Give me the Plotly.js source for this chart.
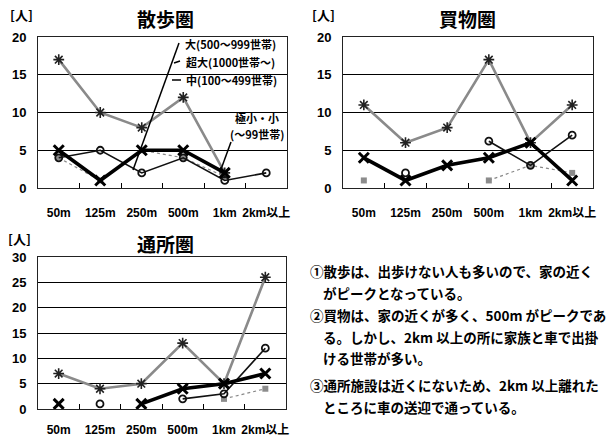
<!DOCTYPE html>
<html>
<head>
<meta charset="utf-8">
<script src="https://cdn.plot.ly/plotly-3.0.1.min.js"></script>
<style>html,body{margin:0;padding:0;background:#fff;}#chart{width:613px;height:439px;}</style>
</head>
<body>
<div id="chart"></div>
<script>
// ---- data ----
const categories = ["50m", "125m", "250m", "500m", "1km", "2km以上"];
const seriesNames = ["大(500～999世帯)", "超大(1000世帯～)", "中(100～499世帯)", "極小・小(～99世帯)"];

// 散歩圏
const walk_dai     = [4, 5, 2, 4, 1, 2];
const walk_chodai  = [17, 10, 8, 12, 2, null];
const walk_chu     = [5, 1, 5, 5, 2, null];
const walk_small   = [4, 1, 5, 4, 1.5, null];

// 買物圏
const shop_dai     = [null, 2, null, 6.2, 3, 7];
const shop_chodai  = [11, 6, 8, 17, 6, 11];
const shop_chu     = [4, 1, 3, 4, 6, 1];
const shop_small   = [1, null, null, 1, 3, 2];

// 通所圏
const day_dai      = [null, 1, null, 2, 3, 12];
const day_chodai   = [7, 4, 5, 13, 5, 26];
const day_chu      = [1, null, 1, 4, 5, 7];
const day_small    = [null, null, null, null, 2, 4];

const yTicks1 = [0, 5, 10, 15, 20];
const yTicks3 = [0, 5, 10, 15, 20, 25, 30];

const panelTitles = ["散歩圏", "買物圏", "通所圏"];
const unitLabel = "[人]";
const notes = [
  "①散歩は、出歩けない人も多いので、家の近く",
  "がピークとなっている。",
  "②買物は、家の近くが多く、500m がピークであ",
  "る。しかし、2km 以上の所に家族と車で出掛",
  "ける世帯が多い。",
  "③通所施設は近くにないため、2km 以上離れた",
  "ところに車の送迎で通っている。"
];

// ---- layout helpers ----
const W = 613, H = 439;
const px = x => x / W;
const py = y => 1 - y / H;
const JP = "Noto Sans CJK JP, Liberation Sans, sans-serif";
const NUM = "Liberation Sans, Arial, Noto Sans CJK JP, sans-serif";

function styles(i) {
  if (i === 0) return {line: {color: "#111", width: 1.6}, marker: {symbol: "circle-open", size: 7, color: "#111", line: {width: 1.8, color: "#111"}}};
  if (i === 1) return {line: {color: "#8a8a8a", width: 2.6}, marker: {symbol: "asterisk-open", size: 9, color: "#222", line: {width: 1.6, color: "#222"}}};
  if (i === 2) return {line: {color: "#000", width: 3.6}, marker: {symbol: "x-thin-open", size: 10, color: "#000", line: {width: 3, color: "#000"}}};
  return {line: {color: "#888", width: 1.2, dash: "dot"}, marker: {symbol: "square", size: 6, color: "#8c8c8c"}};
}

const traces = [];
function addPanel(ax, arrs) {
  const order = [3, 1, 0, 2];
  order.forEach(i => {
    const s = styles(i);
    traces.push({
      type: "scatter", mode: "lines+markers", x: categories, y: arrs[i],
      name: seriesNames[i], xaxis: "x" + ax, yaxis: "y" + ax,
      line: s.line, marker: s.marker, connectgaps: false, showlegend: false,
      cliponaxis: false
    });
  });
}
addPanel("", [walk_dai, walk_chodai, walk_chu, walk_small]);
addPanel("2", [shop_dai, shop_chodai, shop_chu, shop_small]);
addPanel("3", [day_dai, day_chodai, day_chu, day_small]);

function xAxis(dom, anchor, standoff) {
  return {
    domain: dom, anchor: anchor, type: "category", range: [-0.5, 5.5],
    tickson: "boundaries", ticks: "inside", ticklen: 5, tickcolor: "#000", tickwidth: 1,
    showline: true, linecolor: "#222", linewidth: 1, mirror: true,
    showgrid: false, zeroline: false, fixedrange: true, tickangle: 0,
    ticklabelstandoff: standoff,
    tickfont: {family: NUM, size: 12, color: "#000", weight: "bold"}
  };
}
function yAxis(dom, anchor, ticks) {
  return {
    domain: dom, anchor: anchor, range: [0, ticks[ticks.length - 1]],
    tickvals: ticks, ticktext: ticks.map(String), ticks: "",
    showline: true, linecolor: "#222", linewidth: 1, mirror: true,
    showgrid: true, gridcolor: "#000", gridwidth: 1, zeroline: false, fixedrange: true,
    ticklabelstandoff: 8,
    tickfont: {family: NUM, size: 13, color: "#000", weight: "bold"}
  };
}

const yTop = [py(188), py(37)];
const yBot = [py(409), py(257)];

const annotations = [];
function ann(text, x, y, size, xanchor, extra) {
  annotations.push(Object.assign({
    text: text, xref: "paper", yref: "paper", x: px(x), y: py(y),
    xanchor: xanchor || "center", yanchor: "middle", showarrow: false,
    font: {family: JP, size: size, color: "#000", weight: "bold"}
  }, extra || {}));
}
ann(panelTitles[0], 165, 19, 19);
ann(panelTitles[1], 468, 19, 19);
ann(panelTitles[2], 165, 243, 19);
ann(unitLabel, 8, 15, 13, "left");
ann(unitLabel, 310, 15, 13, "left");
ann(unitLabel, 6, 238, 13, "left");

// series labels (panel 1)
ann(seriesNames[0], 183, 44, 11, "left");
ann(seriesNames[1], 184, 62, 11, "left");
ann(seriesNames[2], 184, 80, 11, "left");
ann("極小・小", 257, 118, 11, "center");
ann("(～99世帯)", 257, 134, 11, "center");

// notes
const noteY = [271, 293, 315, 337, 358, 385, 407];
notes.forEach((t, i) => {
  const indent = (t.startsWith("①") || t.startsWith("②") || t.startsWith("③")) ? 308 : 321;
  ann(t, indent, noteY[i], 13.5, "left");
});

const shapes = [
  {type: "line", xref: "paper", yref: "paper", x0: px(179), y0: py(43), x1: px(133), y1: py(170), line: {color: "#000", width: 1.5}},
  {type: "line", xref: "paper", yref: "paper", x0: px(174), y0: py(63), x1: px(180), y1: py(61), line: {color: "#000", width: 1.5}},
  {type: "line", xref: "paper", yref: "paper", x0: px(172), y0: py(80), x1: px(181), y1: py(80), line: {color: "#000", width: 1.5}},
  {type: "line", xref: "paper", yref: "paper", x0: px(231), y0: py(142), x1: px(220), y1: py(172), line: {color: "#000", width: 1.5}}
];

const layout = {
  width: W, height: H, margin: {l: 0, r: 0, t: 0, b: 0},
  paper_bgcolor: "#fff", plot_bgcolor: "#fff", showlegend: false,
  xaxis: xAxis([px(38), px(287)], "y", 14),
  yaxis: yAxis(yTop, "x", yTicks1),
  xaxis2: xAxis([px(343), px(593)], "y2", 14),
  yaxis2: yAxis(yTop, "x2", yTicks1),
  xaxis3: xAxis([px(38), px(286)], "y3", 10),
  yaxis3: yAxis(yBot, "x3", yTicks3),
  annotations: annotations, shapes: shapes
};

Plotly.newPlot("chart", traces, layout, {displayModeBar: false, staticPlot: true});
</script>
</body>
</html>
